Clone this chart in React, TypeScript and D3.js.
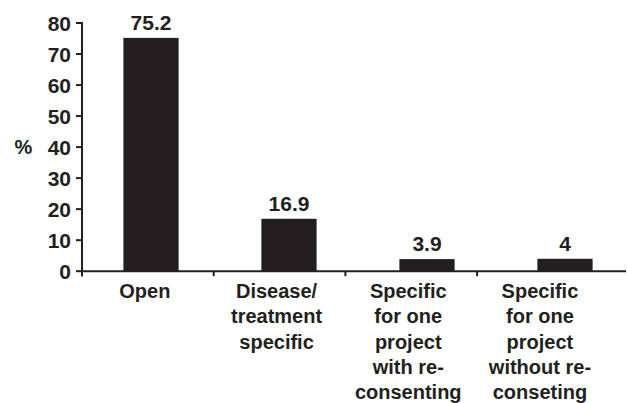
import React from "react";
import * as d3 from "d3";

const categories = ["Open", "Disease/ treatment specific", "Specific for one project with re-consenting", "Specific for one project without re-conseting"];
const labelLines = [
  ["Open"],
  ["Disease/", "treatment", "specific"],
  ["Specific", "for one", "project", "with re-", "consenting"],
  ["Specific", "for one", "project", "without re-", "conseting"],
];
const values = [75.2, 16.9, 3.9, 4];
const valueLabels = ["75.2", "16.9", "3.9", "4"];
const yTicks = [0, 10, 20, 30, 40, 50, 60, 70, 80];

const W = 627;
const H = 403;
const INK = "#231f20";
const FONT = "'Liberation Sans', Arial, Helvetica, sans-serif";

export default function App() {
  const x0 = 82;
  const y = d3.scaleLinear().domain([0, 80]).range([271.2, 23]);
  const xTick = d3.scaleBand<string>().domain(categories).range([x0, x0 + 4 * 131.7]);
  const xBar = d3
    .scaleBand<string>()
    .domain(categories)
    .range([x0, x0 + 4 * 138])
    .paddingInner(0.6)
    .paddingOuter(0.3);

  return (
    <svg
      width={W}
      height={H}
      style={{ position: "absolute", left: 0, top: 0, background: "#fff" }}
      fontFamily={FONT}
      fontWeight="bold"
      fill={INK}
    >
      {categories.map((c, i) => (
        <rect
          key={c}
          x={xBar(c)!}
          y={y(values[i])}
          width={xBar.bandwidth()}
          height={y(0) - y(values[i])}
          fill={INK}
        />
      ))}
      {categories.map((c, i) => (
        <text
          key={c + "v"}
          x={xBar(c)! + xBar.bandwidth() / 2}
          y={y(values[i]) - 8}
          textAnchor="middle"
          fontSize={21}
        >
          {valueLabels[i]}
        </text>
      ))}
      <line x1={x0} x2={x0} y1={y(80) - 1} y2={y(0) + 5} stroke={INK} strokeWidth={2} />
      {yTicks.map((t) => (
        <g key={t}>
          <line x1={x0 - 6} x2={x0} y1={y(t)} y2={y(t)} stroke={INK} strokeWidth={2} />
          <text x={x0 - 11} y={y(t)} dy="0.36em" textAnchor="end" fontSize={21}>
            {t}
          </text>
        </g>
      ))}
      <text x={23.5} y={y(40)} dy="0.36em" textAnchor="middle" fontSize={20}>
        %
      </text>
      <line x1={x0 - 1} x2={626} y1={y(0)} y2={y(0)} stroke={INK} strokeWidth={2} />
      {categories.map((c) => (
        <line
          key={c + "t"}
          x1={xTick(c)!}
          x2={xTick(c)!}
          y1={y(0)}
          y2={y(0) + 5}
          stroke={INK}
          strokeWidth={2}
        />
      ))}
      {categories.map((c, i) => (
        <text
          key={c + "l"}
          x={xTick(c)! + xTick.bandwidth() / 2 - 3}
          y={298}
          textAnchor="middle"
          fontSize={20}
        >
          {labelLines[i].map((ln, j) => (
            <tspan key={j} x={xTick(c)! + xTick.bandwidth() / 2 - 3} dy={j === 0 ? 0 : 25.3}>
              {ln}
            </tspan>
          ))}
        </text>
      ))}
    </svg>
  );
}
